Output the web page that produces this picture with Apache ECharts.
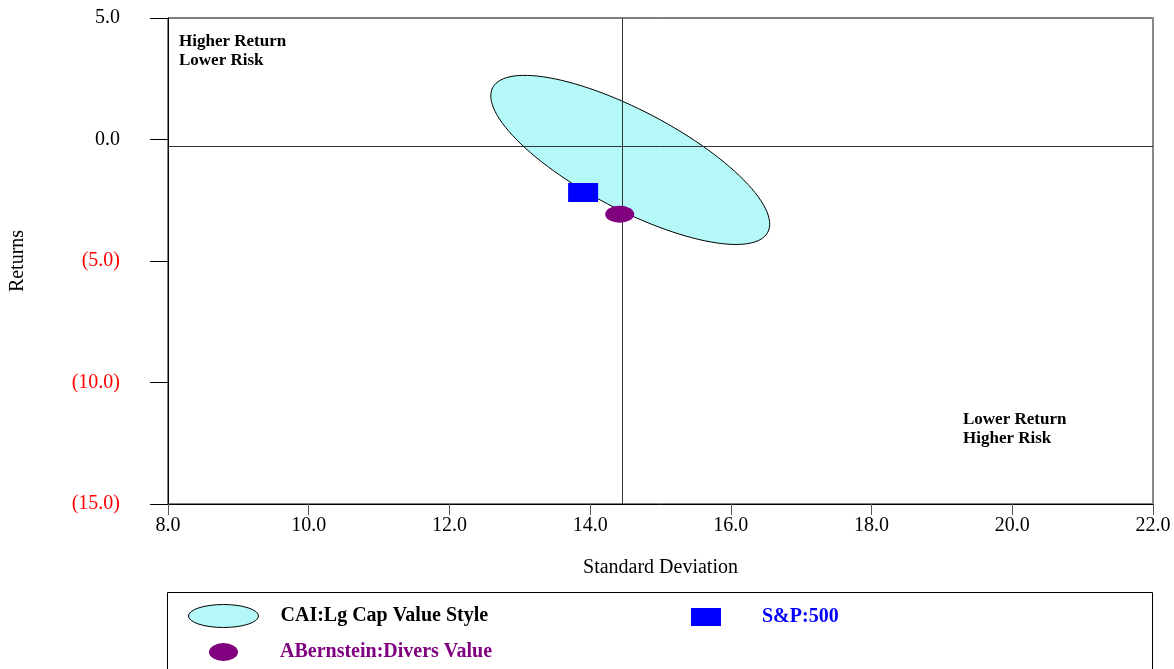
<!DOCTYPE html>
<html>
<head>
<meta charset="utf-8">
<script src="https://cdn.jsdelivr.net/npm/echarts@6/dist/echarts.min.js"></script>
<style>
html,body{margin:0;padding:0;background:#fff;}
#chart{width:1174px;height:669px;}
</style>
</head>
<body>
<div id="chart"></div>
<script>
// ---- data ----
const xTickLabels = ['8.0','10.0','12.0','14.0','16.0','18.0','20.0','22.0'];
const yTickLabels = ['(15.0)','(10.0)','(5.0)','0.0','5.0'];
const seriesNames = ['CAI:Lg Cap Value Style','S&P:500','ABernstein:Divers Value'];
// style ellipse: center [std dev, return], conjugate semi-axis vectors (data units)
const styleCenter = [14.57, -0.84];
const styleAxisMajor = [1.955, -2.975];
const styleAxisMinor = [-0.327, -1.805];
const sp500 = [13.90, -2.18];
const abernstein = [14.42, -3.08];
const crossX = 14.45;   // median std dev line
const crossY = -0.26;   // median return line

const serif = '"Liberation Serif","DejaVu Serif",serif';
const ellipseIcon = 'path://M0,10 A20,10 0 1,1 40,10 A20,10 0 1,1 0,10 Z';

const chart = echarts.init(document.getElementById('chart'));
chart.setOption({
  animation: false,
  backgroundColor: '#fff',
  grid: { left: 168, right: 21, top: 18, bottom: 165, show: true, borderColor: '#000', borderWidth: 1,
          containLabel: false, outerBoundsMode: 'none' },
  xAxis: {
    type: 'value', min: 8, max: 22, interval: 2,
    name: 'Standard Deviation', nameLocation: 'middle', nameGap: 54,
    nameTextStyle: { fontFamily: serif, fontSize: 20, color: '#000' },
    axisLine: { onZero: false, lineStyle: { color: '#000', width: 1 } },
    axisTick: { show: true, length: 11, lineStyle: { color: '#555' } },
    axisLabel: { fontFamily: serif, fontSize: 20, color: '#000', margin: 12,
      formatter: v => xTickLabels[Math.round((v - 8) / 2)] },
    splitLine: { show: false }
  },
  yAxis: [{
    type: 'value', min: -15, max: 5, interval: 5,
    name: 'Returns', nameLocation: 'middle', nameGap: 140,
    nameTextStyle: { fontFamily: serif, fontSize: 20, color: '#000' },
    axisLine: { show: true, onZero: false, lineStyle: { color: '#000', width: 1 } },
    axisTick: { show: true, length: 18, lineStyle: { color: '#000' } },
    axisLabel: { fontFamily: serif, fontSize: 20, margin: 48,
      color: v => (v < 0 ? '#ff0000' : '#000'),
      formatter: v => yTickLabels[Math.round((v + 15) / 5)] },
    splitLine: { show: false }
  }, {
    type: 'value', min: -15, max: 5, interval: 5, position: 'right',
    axisLine: { show: true, onZero: false, lineStyle: { color: '#888', width: 2 } },
    axisTick: { show: false }, axisLabel: { show: false }, splitLine: { show: false }
  }],
  legend: [{
    left: 188, top: 604, padding: 0, selectedMode: false, symbolKeepAspect: false,
    itemWidth: 70, itemHeight: 23,
    textStyle: { fontFamily: serif, fontSize: 20, fontWeight: 'bold', color: '#000', padding: [0,0,0,17] },
    data: [{ name: seriesNames[0], icon: ellipseIcon,
      itemStyle: { color: '#b4f8f8', borderColor: '#000', borderWidth: 1 } }]
  }, {
    left: 691, top: 607, padding: 0, selectedMode: false, symbolKeepAspect: false,
    itemWidth: 30, itemHeight: 18,
    textStyle: { fontFamily: serif, fontSize: 20, fontWeight: 'bold', color: '#0000ff', padding: [0,0,0,36] },
    data: [{ name: seriesNames[1], icon: 'rect', itemStyle: { color: '#0000ff' } }]
  }, {
    left: 209, top: 642, padding: 0, selectedMode: false, symbolKeepAspect: false,
    itemWidth: 29, itemHeight: 18,
    textStyle: { fontFamily: serif, fontSize: 20, fontWeight: 'bold', color: '#800080', padding: [0,0,0,37] },
    data: [{ name: seriesNames[2], icon: ellipseIcon, itemStyle: { color: '#800080' } }]
  }],
  graphic: [
    { type: 'rect', z: -1, silent: true,
      shape: { x: 167.5, y: 592.5, width: 985, height: 120 },
      style: { fill: 'none', stroke: '#000', lineWidth: 1 } },
    { type: 'text', left: 179, top: 32, silent: true,
      style: { text: 'Higher Return\nLower Risk', font: 'bold 17px ' + serif, lineHeight: 19, fill: '#000' } },
    { type: 'text', left: 963, top: 410, silent: true,
      style: { text: 'Lower Return\nHigher Risk', font: 'bold 17px ' + serif, lineHeight: 19, fill: '#000' } }
  ],
  series: [{
    name: seriesNames[0], type: 'custom', z: 2, silent: true,
    data: [styleCenter],
    encode: { x: 0, y: 1 },
    renderItem: function (params, api) {
      const cx = api.value(0), cy = api.value(1);
      const pts = [];
      for (let i = 0; i < 120; i++) {
        const t = i / 120 * Math.PI * 2;
        const c = Math.cos(t), s = Math.sin(t);
        pts.push(api.coord([cx + c * styleAxisMajor[0] + s * styleAxisMinor[0],
                            cy + c * styleAxisMajor[1] + s * styleAxisMinor[1]]));
      }
      return { type: 'polygon', shape: { points: pts },
        style: { fill: '#b4f8f8', stroke: '#000', lineWidth: 1 } };
    }
  }, {
    name: 'cross', type: 'scatter', data: [], z: 3, silent: true,
    markLine: {
      silent: true, symbol: 'none', label: { show: false },
      lineStyle: { color: '#333', width: 1, type: 'solid' },
      data: [{ xAxis: crossX }, { yAxis: crossY }]
    }
  }, {
    name: seriesNames[1], type: 'scatter', z: 4, symbol: 'rect', symbolSize: [30, 19],
    itemStyle: { color: '#0000ff', opacity: 1 }, data: [sp500]
  }, {
    name: seriesNames[2], type: 'scatter', z: 5, symbol: 'circle', symbolSize: [29, 17],
    itemStyle: { color: '#800080', opacity: 1 }, data: [abernstein]
  }]
});
</script>
</body>
</html>
